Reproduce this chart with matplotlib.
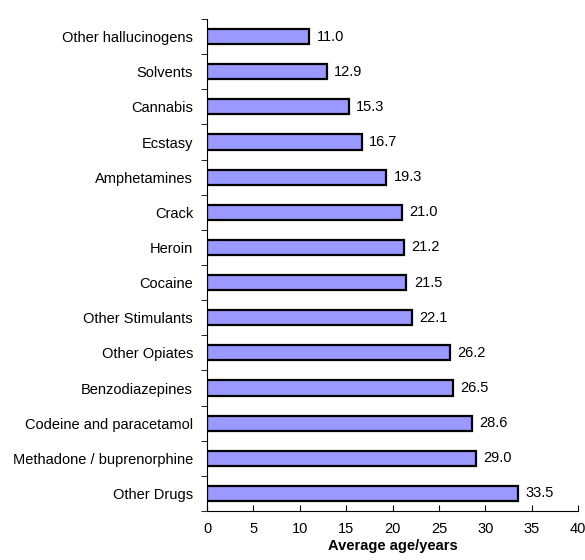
import numpy as np
import matplotlib.pyplot as plt

plt.rcParams['font.family'] = ['Liberation Sans', 'DejaVu Sans']

drugs = ['Other hallucinogens', 'Solvents', 'Cannabis', 'Ecstasy', 'Amphetamines',
         'Crack', 'Heroin', 'Cocaine', 'Other Stimulants', 'Other Opiates',
         'Benzodiazepines', 'Codeine and paracetamol', 'Methadone / buprenorphine',
         'Other Drugs']
ages = [11.0, 12.9, 15.3, 16.7, 19.3, 21.0, 21.2, 21.5, 22.1, 26.2, 26.5, 28.6, 29.0, 33.5]

fig = plt.figure(figsize=(5.85, 5.6), dpi=100)
ax = fig.add_axes([207 / 585, 49 / 560, 371 / 585, 492 / 560])

y = np.arange(len(drugs))
ax.barh(y, ages, height=0.43, color='#9999ff', edgecolor='black', linewidth=1.6)
for yi, v in zip(y, ages):
    ax.text(v + 0.8, yi, '%.1f' % v, va='center', ha='left', fontsize=10.5)

ax.set_ylim(len(drugs) - 0.5, -0.5)
ax.set_xlim(0, 40)
ax.set_xticks(range(0, 41, 5))
ax.set_yticks(y)
ax.set_yticklabels(drugs, fontsize=10.5)
ax.set_yticks(np.arange(-0.5, len(drugs), 1), minor=True)
ax.tick_params(axis='y', which='major', length=0, pad=10)
ax.tick_params(axis='y', which='minor', length=4, direction='out')
ax.tick_params(axis='x', length=4, direction='in', labelsize=10.5, pad=8)
ax.set_xlabel('Average age/years', fontsize=10.5, fontweight='bold', labelpad=2)

for s in ['top', 'right']:
    ax.spines[s].set_visible(False)

fig.savefig('out.png', dpi=100)
